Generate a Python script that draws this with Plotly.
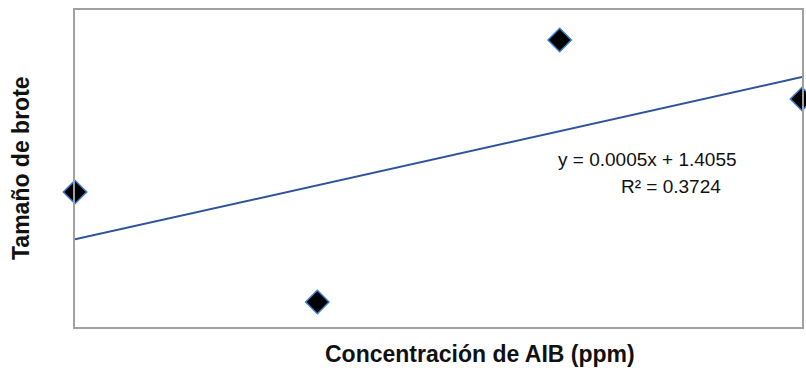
import numpy as np
import plotly.graph_objects as go

concentracion = [0, 250, 500, 750]
tamano_brote = [1.5155, 1.2625, 1.865, 1.7294]
ecuacion = "y = 0.0005x + 1.4055"
r2_texto = "R² = 0.3724"
x_titulo = "Concentración de AIB (ppm)"
y_titulo = "Tamaño de brote"

slope, intercept = np.polyfit(concentracion, tamano_brote, 1)
x_fit = [min(concentracion), max(concentracion)]
y_fit = [slope * v + intercept for v in x_fit]

L, R, T, B = 75, 802, 10, 327
W = R - L
H = B - T

fig = go.Figure()
fig.add_trace(go.Scatter(x=x_fit, y=y_fit, mode="lines",
                         line=dict(color="#2f539b", width=2),
                         hoverinfo="skip", showlegend=False))
fig.add_trace(go.Scatter(x=concentracion, y=tamano_brote, mode="markers",
                         marker=dict(symbol="diamond", size=18, color="black",
                                     line=dict(color="#3f7fd0", width=1.5)),
                         showlegend=False, cliponaxis=False))

fig.add_annotation(xref="paper", yref="paper", x=(647 - L) / W, y=1 - (160 - T) / H,
                   text=ecuacion, showarrow=False, xanchor="center", yanchor="middle",
                   font=dict(family="Liberation Sans", size=19, color="#111"))
fig.add_annotation(xref="paper", yref="paper", x=(671 - L) / W, y=1 - (186 - T) / H,
                   text=r2_texto, showarrow=False, xanchor="center", yanchor="middle",
                   font=dict(family="Liberation Sans", size=19, color="#111"))
fig.add_annotation(xref="paper", yref="paper", x=(480 - L) / W, y=1 - (354 - T) / H,
                   text="<b>" + x_titulo + "</b>", showarrow=False, xanchor="center", yanchor="middle",
                   font=dict(family="Liberation Sans", size=23, color="#111"))
fig.add_annotation(xref="paper", yref="paper", x=(21 - L) / W, y=1 - (168 - T) / H,
                   text="<b>" + y_titulo + "</b>", showarrow=False, textangle=-90,
                   xanchor="center", yanchor="middle",
                   font=dict(family="Liberation Sans", size=23, color="#111"))

fig.update_xaxes(range=[0, 750], showgrid=False, zeroline=False, showticklabels=False,
                 ticks="", showline=True, linecolor="#a0a0a0", linewidth=2, mirror=True)
fig.update_yaxes(range=[1.205, 1.934], showgrid=False, zeroline=False, showticklabels=False,
                 ticks="", showline=True, linecolor="#a0a0a0", linewidth=2, mirror=True)
fig.update_layout(width=806, height=368,
                  margin=dict(l=L, r=806 - R, t=T, b=368 - B, autoexpand=False),
                  plot_bgcolor="white", paper_bgcolor="white")
fig.write_html("out.html", config={"displayModeBar": False},
               post_script="document.body.style.margin='0';document.body.style.padding='0';document.body.style.overflow='hidden';")
